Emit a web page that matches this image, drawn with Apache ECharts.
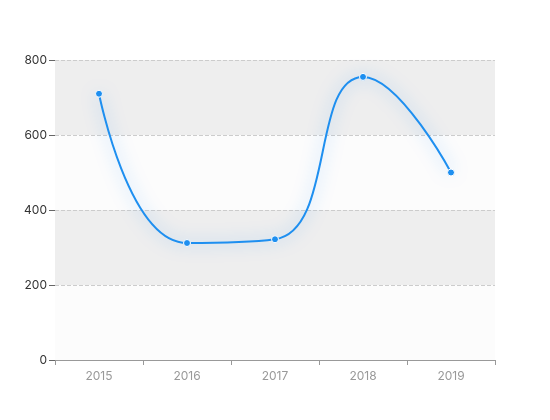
<!DOCTYPE html>
<html>
<head>
<meta charset="utf-8">
<script src="https://cdn.jsdelivr.net/npm/echarts@6/dist/echarts.min.js"></script>
<style>
    html, body { margin: 0; padding: 0; background: #fff; }
    #chart { width: 550px; height: 420px; }
</style>
</head>
<body>
<div id="chart"></div>
<script>
var years = ['2015', '2016', '2017', '2018', '2019'];
var values = [710, 312, 322, 755, 500];

var myChart = echarts.init(document.getElementById('chart'));
var option = {
    animation: false,
    grid: {
        left: 55,
        right: 55,
        top: 60,
        bottom: 60
    },
    xAxis: {
        type: 'category',
        data: years,
        axisLine: { lineStyle: { color: '#999' } },
        axisTick: { show: true, length: 5, lineStyle: { color: '#999' } },
        axisLabel: { color: '#999', fontSize: 12, margin: 10, fontFamily: 'Inter' }
    },
    yAxis: {
        type: 'value',
        min: 0,
        max: 800,
        interval: 200,
        axisLine: { show: false },
        axisTick: { show: true, length: 6, lineStyle: { color: '#666' } },
        axisLabel: { color: '#333', fontSize: 12, margin: 8, fontFamily: 'Inter' },
        splitLine: { lineStyle: { type: 'dashed', color: '#ccc' } },
        splitArea: {
            show: true,
            areaStyle: { color: ['#fcfcfc', '#eeeeee'] }
        }
    },
    series: [
        {
            type: 'line',
            data: values,
            smooth: true,
            symbol: 'circle',
            symbolSize: 7,
            itemStyle: {
                color: '#1e8ff0',
                borderColor: '#fff',
                borderWidth: 1
            },
            lineStyle: {
                color: '#1e8ff0',
                width: 2,
                shadowColor: 'rgba(30, 143, 255, 0.5)',
                shadowBlur: 16
            }
        }
    ]
};
myChart.setOption(option);
</script>
</body>
</html>
